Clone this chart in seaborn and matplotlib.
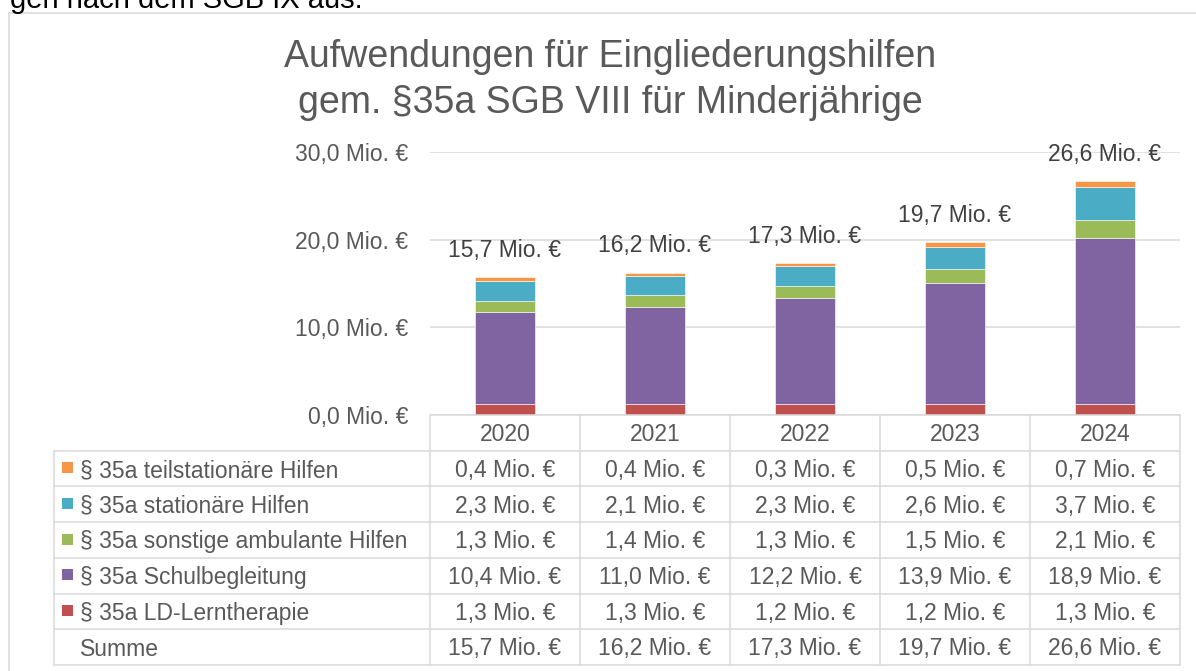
import matplotlib
matplotlib.use("Agg")
import matplotlib.pyplot as plt
from matplotlib.lines import Line2D
from matplotlib.patches import Rectangle
import seaborn as sns
import numpy as np

# ---------------- data ----------------
years = ["2020", "2021", "2022", "2023", "2024"]
series_names = [
    "§ 35a LD-Lerntherapie",
    "§ 35a Schulbegleitung",
    "§ 35a sonstige ambulante Hilfen",
    "§ 35a stationäre Hilfen",
    "§ 35a teilstationäre Hilfen",
]
ld_lerntherapie = [1.3, 1.3, 1.2, 1.2, 1.3]
schulbegleitung = [10.4, 11.0, 12.2, 13.9, 18.9]
sonstige_ambulant = [1.3, 1.4, 1.3, 1.5, 2.1]
stationaer = [2.3, 2.1, 2.3, 2.6, 3.7]
teilstationaer = [0.4, 0.4, 0.3, 0.5, 0.7]
summe = [15.7, 16.2, 17.3, 19.7, 26.6]
y_ticks = [0, 10, 20, 30]
title_lines = ["Aufwendungen für Eingliederungshilfen", "gem. §35a SGB VIII für Minderjährige"]
top_text = "gen nach dem SGB IX aus."

series_values = [ld_lerntherapie, schulbegleitung, sonstige_ambulant, stationaer, teilstationaer]
colors = ["#C0504D", "#8064A2", "#9BBB59", "#4BACC6", "#F79646"]

def fmt(v):
    return f"{v:.1f}".replace(".", ",") + " Mio. €"

# ---------------- figure ----------------
sns.set_theme(style="white")
plt.rcParams["font.family"] = ["Liberation Sans", "DejaVu Sans"]

W, H = 1196, 671
fig = plt.figure(figsize=(W / 100, H / 100), dpi=100)
fig.patch.set_facecolor("white")

def fx(x):
    return x / W

def fy(y):
    return 1 - y / H

GRID = "#D9D9D9"
TXT = "#595959"
LW = 1.1

# plot area in pixels
X0, X1 = 430, 1180
Y0, Y30 = 415, 152
ax = fig.add_axes([fx(X0), fy(Y0), fx(X1) - fx(X0), fy(Y30) - fy(Y0)])

bottom = np.zeros(len(years))
for name, vals, c in zip(series_names, series_values, colors):
    sns.barplot(x=years, y=vals, bottom=bottom, color=c, width=0.4, ax=ax,
                edgecolor="white", linewidth=0.4, saturation=1, zorder=3)
    bottom = bottom + np.array(vals)

ax.set_xlim(-0.5, len(years) - 0.5)
ax.set_ylim(0, 30)
ax.set_yticks(y_ticks)
ax.set_yticklabels([fmt(t) for t in y_ticks], color=TXT, fontsize=16.5)
ax.tick_params(axis="y", length=0, pad=15.5)
ax.set_xticks([])
ax.set_xlabel("")
ax.set_ylabel("")
for s in ax.spines.values():
    s.set_visible(False)
ax.yaxis.grid(True, color=GRID, linewidth=LW, zorder=0)
ax.set_axisbelow(True)
ax.patch.set_alpha(0)

# total labels above bars
for i, tot in enumerate(summe):
    ax.annotate(fmt(tot), (i, tot), xytext=(0, 14.8), textcoords="offset points",
                ha="center", va="baseline", fontsize=16.5, color="#404040",
                annotation_clip=False, zorder=5)

# title
fig.text(fx(610), fy(67.3), title_lines[0], ha="center", va="baseline", fontsize=27, color=TXT)
fig.text(fx(610), fy(112.7), title_lines[1], ha="center", va="baseline", fontsize=27, color=TXT)

# cut-off text at very top (partially outside, as in the reference)
fig.text(fx(10), fy(8), top_text, ha="left", va="baseline", fontsize=21, color="black")

# outer frame (extends beyond right/bottom edges)
fig.add_artist(Line2D([fx(9), fx(9)], [fy(13), fy(H + 5)], color=GRID, lw=LW))
fig.add_artist(Line2D([fx(9), fx(W + 5)], [fy(13), fy(13)], color=GRID, lw=LW))

# ---------------- data table ----------------
col_w = (X1 - X0) / len(years)
col_edges = [X0 + col_w * i for i in range(len(years) + 1)]
row_h = 35.7
header_top = Y0
row_tops = [header_top + row_h * k for k in range(8)]
TL = 54  # left edge of label column
n_rows = len(series_names) + 1  # + Summe

fig.add_artist(Line2D([fx(X0), fx(X1)], [fy(header_top), fy(header_top)], color=GRID, lw=LW))
for k in range(1, n_rows + 2):
    y = row_tops[k]
    fig.add_artist(Line2D([fx(TL), fx(X1)], [fy(y), fy(y)], color=GRID, lw=LW))
fig.add_artist(Line2D([fx(TL), fx(TL)], [fy(row_tops[1]), fy(row_tops[n_rows + 1])], color=GRID, lw=LW))
for xe in col_edges:
    fig.add_artist(Line2D([fx(xe), fx(xe)], [fy(header_top), fy(row_tops[n_rows + 1])], color=GRID, lw=LW))

for i, yr in enumerate(years):
    cx = X0 + col_w * (i + 0.5)
    fig.text(fx(cx), fy(header_top + 26.3), yr, ha="center", va="baseline", fontsize=16.5, color=TXT)

row_series = list(zip(series_names, series_values, colors))[::-1]
for r, (name, vals, c) in enumerate(row_series):
    top = row_tops[r + 1]
    fig.add_artist(Rectangle((fx(62), fy(top + 22.5)), fx(11), 11 / H,
                             facecolor=c, edgecolor="none", transform=fig.transFigure))
    fig.text(fx(79.5), fy(top + 26.3), name, ha="left", va="baseline", fontsize=16.5, color=TXT)
    for i, v in enumerate(vals):
        cx = X0 + col_w * (i + 0.5)
        fig.text(fx(cx), fy(top + 26.3), fmt(v), ha="center", va="baseline", fontsize=16.5, color=TXT)

top = row_tops[n_rows]
fig.text(fx(79.5), fy(top + 26.3), "Summe", ha="left", va="baseline", fontsize=16.5, color=TXT)
for i, v in enumerate(summe):
    cx = X0 + col_w * (i + 0.5)
    fig.text(fx(cx), fy(top + 26.3), fmt(v), ha="center", va="baseline", fontsize=16.5, color=TXT)

fig.savefig("out.png", dpi=100, facecolor="white")
